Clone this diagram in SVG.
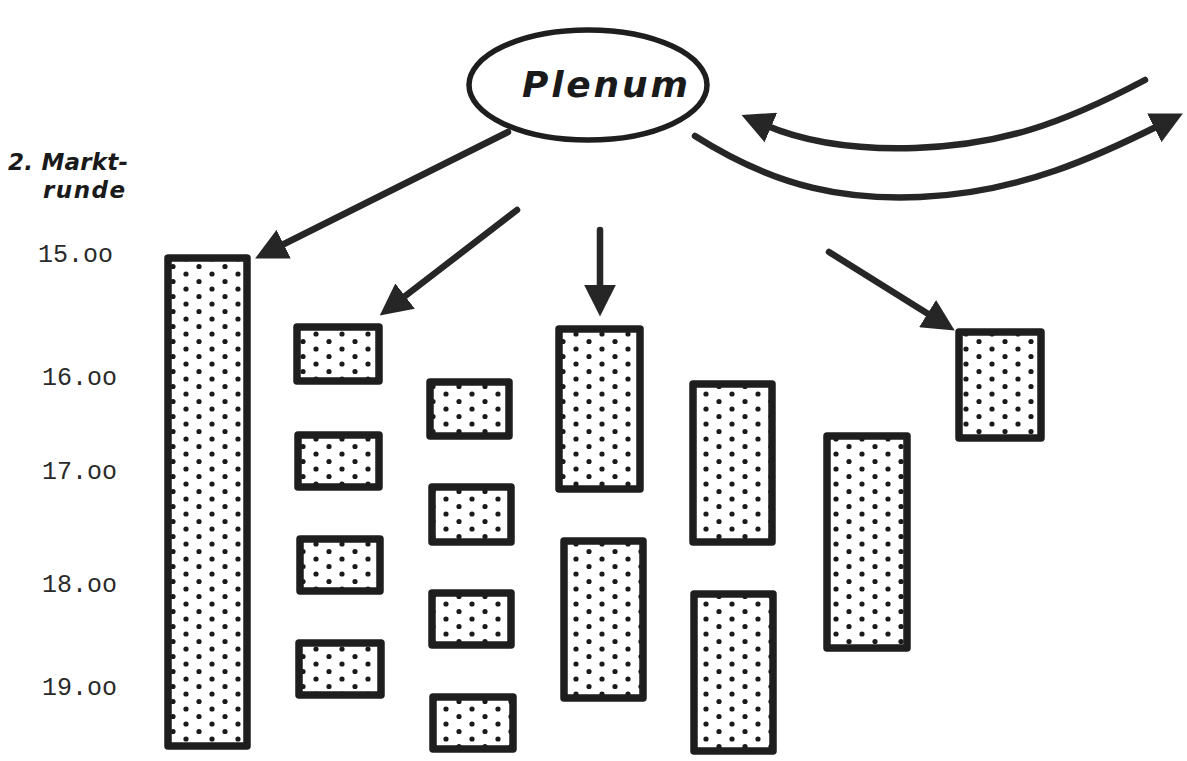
<svg xmlns="http://www.w3.org/2000/svg" width="1187" height="761" viewBox="0 0 1187 761">
  <style>
    .box { fill: url(#dots); stroke: #1e1e1e; stroke-width: 7.5; stroke-linejoin: round; }
    .link { fill: none; stroke: #262626; stroke-width: 6.5; stroke-linecap: round; marker-end: url(#head); }
    .time { font-family: "Liberation Mono", monospace; font-size: 25px; fill: #2a2a2a; }
    .hand { font-family: "DejaVu Sans", sans-serif; font-style: italic; font-weight: bold; fill: #1a1a1a; }
  </style>
  <defs>
    <!-- staggered dot screen used inside every bar -->
    <pattern id="dots" patternUnits="userSpaceOnUse" width="26" height="15">
      <rect width="26" height="15" fill="#fff"/>
      <circle cx="4" cy="4" r="2.6" fill="#1a1a1a"/>
      <circle cx="17" cy="11.5" r="2.6" fill="#1a1a1a"/>
    </pattern>
    <marker id="head" viewBox="0 0 10 10" refX="2" refY="5" markerUnits="userSpaceOnUse" markerWidth="32" markerHeight="32" orient="auto">
      <path d="M0,0 L10,5 L0,10 z" fill="#262626"/>
    </marker>
  </defs>

  <rect width="1187" height="761" fill="#fff"/>

  <!-- side labels -->
  <g id="label-round">
    <text class="hand" x="8" y="170" font-size="23" textLength="120">2. Markt-</text>
    <text class="hand" x="43" y="198" font-size="23" textLength="82">runde</text>
  </g>
  <g id="time-axis">
    <text class="time" x="38" y="262">15.oo</text>
    <text class="time" x="42" y="385">16.oo</text>
    <text class="time" x="42" y="479">17.oo</text>
    <text class="time" x="42" y="592">18.oo</text>
    <text class="time" x="42" y="695">19.oo</text>
  </g>

  <!-- plenum -->
  <g id="plenum">
    <ellipse cx="588" cy="85" rx="119" ry="55" fill="#fff" stroke="#1e1e1e" stroke-width="5.5"/>
    <text class="hand" x="522" y="97" font-size="36" textLength="166">Plenum</text>
  </g>

  <!-- connectors -->
  <g id="connectors">
    <line class="link" x1="508" y1="132" x2="278" y2="247"/>
    <line class="link" x1="517" y1="210" x2="400" y2="300"/>
    <line class="link" x1="600" y1="230" x2="600" y2="291"/>
    <line class="link" x1="829" y1="252" x2="933" y2="317"/>
    <path class="link" d="M1145,80 C1060,125 1000,145 915,148 C850,150 800,140 765,125"/>
    <path class="link" d="M695,136 C780,190 850,200 920,197 C1020,193 1100,155 1160,125"/>
  </g>

  <!-- session bars -->
  <g id="bar-a"><rect class="box" x="168" y="258" width="79" height="488"/></g>

  <g id="bar-b1"><rect class="box" x="297" y="327" width="82" height="54"/></g>
  <g id="bar-b2"><rect class="box" x="298" y="435" width="81" height="52"/></g>
  <g id="bar-b3"><rect class="box" x="300" y="539" width="80" height="52"/></g>
  <g id="bar-b4"><rect class="box" x="299" y="643" width="82" height="52"/></g>

  <g id="bar-c1"><rect class="box" x="430" y="382" width="79" height="54"/></g>
  <g id="bar-c2"><rect class="box" x="432" y="487" width="79" height="55"/></g>
  <g id="bar-c3"><rect class="box" x="432" y="593" width="79" height="52"/></g>
  <g id="bar-c4"><rect class="box" x="433" y="697" width="80" height="52"/></g>

  <g id="bar-d1"><rect class="box" x="559" y="329" width="81" height="160"/></g>
  <g id="bar-d2"><rect class="box" x="564" y="541" width="79" height="157"/></g>

  <g id="bar-e1"><rect class="box" x="693" y="384" width="79" height="158"/></g>
  <g id="bar-e2"><rect class="box" x="694" y="594" width="79" height="157"/></g>

  <g id="bar-f"><rect class="box" x="827" y="436" width="80" height="212"/></g>

  <g id="bar-g"><rect class="box" x="959" y="332" width="82" height="106"/></g>
</svg>
